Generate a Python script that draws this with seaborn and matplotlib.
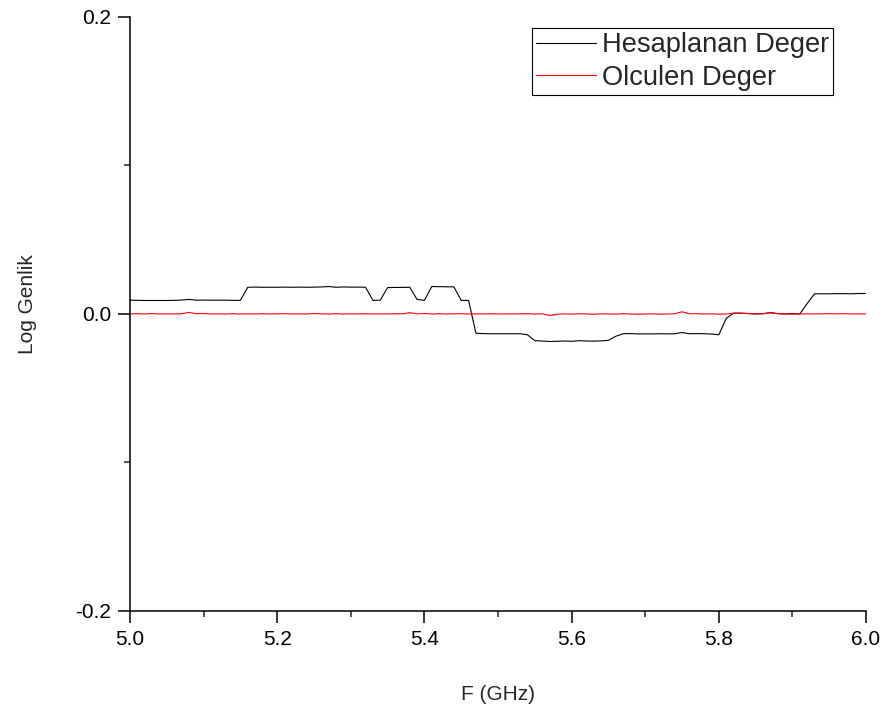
import numpy as np
import pandas as pd
import matplotlib.pyplot as plt
import seaborn as sns
from matplotlib.ticker import MultipleLocator

# --- DATA (0.01 GHz steps) ---
freq = np.round(np.arange(5.0, 6.0001, 0.01), 2)

hesaplanan = [
    0.0093, 0.0092, 0.0091, 0.0091, 0.0091, 0.0091, 0.0092, 0.0094, 0.0098, 0.0093,
    0.0094, 0.0093, 0.0093, 0.0093, 0.0092, 0.0092, 0.0180, 0.0181, 0.0180, 0.0180,
    0.0180, 0.0181, 0.0180, 0.0181, 0.0180, 0.0181, 0.0182, 0.0185, 0.0180, 0.0182,
    0.0181, 0.0181, 0.0180, 0.0092, 0.0093, 0.0178, 0.0179, 0.0179, 0.0180, 0.0098,
    0.0092, 0.0185, 0.0184, 0.0183, 0.0183, 0.0092, 0.0091, -0.0130, -0.0132, -0.0133,
    -0.0133, -0.0133, -0.0133, -0.0133, -0.0140, -0.0180, -0.0182, -0.0185, -0.0184, -0.0182,
    -0.0184, -0.0180, -0.0182, -0.0183, -0.0181, -0.0177, -0.0150, -0.0133, -0.0132, -0.0134,
    -0.0134, -0.0134, -0.0133, -0.0134, -0.0133, -0.0125, -0.0133, -0.0132, -0.0133, -0.0135,
    -0.0140, -0.0030, 0.0006, 0.0005, 0.0003, 0.0001, 0.0002, 0.0009, 0.0003, 0.0000,
    0.0003, 0.0000, 0.0070, 0.0136, 0.0136, 0.0136, 0.0137, 0.0137, 0.0136, 0.0138,
    0.0138,
]

olculen = [
    0.0000, 0.0002, 0.0000, 0.0003, 0.0000, 0.0001, 0.0000, 0.0002, 0.0010, 0.0002,
    0.0003, 0.0000, 0.0001, 0.0000, 0.0002, 0.0000, 0.0001, 0.0000, 0.0002, 0.0000,
    0.0001, 0.0002, 0.0000, 0.0001, 0.0000, 0.0003, 0.0001, 0.0000, 0.0002, 0.0000,
    0.0001, 0.0000, 0.0002, 0.0000, 0.0001, 0.0000, 0.0002, 0.0001, 0.0009, 0.0001,
    0.0003, 0.0000, 0.0002, 0.0000, 0.0001, 0.0002, 0.0000, 0.0001, 0.0000, 0.0002,
    0.0000, 0.0001, 0.0000, 0.0001, 0.0002, 0.0000, 0.0001, -0.0010, -0.0002, 0.0001,
    -0.0001, 0.0002, 0.0000, -0.0002, 0.0001, 0.0000, -0.0001, 0.0002, 0.0000, -0.0002,
    0.0000, 0.0001, -0.0001, 0.0000, 0.0002, 0.0015, 0.0001, 0.0002, 0.0000, 0.0001,
    -0.0001, 0.0000, 0.0005, 0.0006, 0.0003, 0.0000, 0.0002, 0.0008, 0.0002, 0.0000,
    -0.0001, 0.0000, 0.0001, 0.0000, 0.0001, 0.0002, 0.0001, 0.0002, 0.0000, 0.0001,
    0.0000,
]

df = pd.DataFrame({
    "F": np.concatenate([freq, freq]),
    "val": hesaplanan + olculen,
    "seri": ["Hesaplanan Deger"] * len(freq) + ["Olculen Deger"] * len(freq),
})

sns.set_style("ticks")
plt.rcParams["font.family"] = ["Liberation Sans", "DejaVu Sans"]

fig = plt.figure(figsize=(8.82, 7.2), dpi=100)
ax = fig.add_axes([0.1474, 0.1514, 0.8345, 0.825])

sns.lineplot(data=df, x="F", y="val", hue="seri",
             palette={"Hesaplanan Deger": "black", "Olculen Deger": "red"},
             linewidth=0.8, ax=ax)

ax.set_xlim(5.0, 6.0)
ax.set_ylim(-0.2, 0.2)
ax.xaxis.set_major_locator(MultipleLocator(0.2))
ax.xaxis.set_minor_locator(MultipleLocator(0.1))
ax.yaxis.set_major_locator(MultipleLocator(0.2))
ax.yaxis.set_minor_locator(MultipleLocator(0.1))
ax.xaxis.set_major_formatter(plt.FormatStrFormatter("%.1f"))
ax.yaxis.set_major_formatter(plt.FormatStrFormatter("%.1f"))

sns.despine(ax=ax)
for side in ["left", "bottom"]:
    ax.spines[side].set_linewidth(1.1)
    ax.spines[side].set_color("black")
ax.tick_params(which="major", length=8.5, width=1.1, labelsize=15, pad=5, colors="black")
ax.tick_params(which="minor", length=4.3, width=1.1)

ax.set_xlabel("F (GHz)", fontsize=15, labelpad=26)
ax.set_ylabel("Log Genlik", fontsize=15)
ax.yaxis.set_label_coords(-0.126, 0.517)

leg = ax.legend(loc="upper right", bbox_to_anchor=(0.955, 0.9815), fontsize=19.6,
                frameon=True, fancybox=False, edgecolor="black", framealpha=1,
                borderpad=0.15, borderaxespad=0, handlelength=2.2,
                handletextpad=0.2, labelspacing=0.25)
leg.get_frame().set_linewidth(0.8)

fig.savefig("out.png", dpi=100)
